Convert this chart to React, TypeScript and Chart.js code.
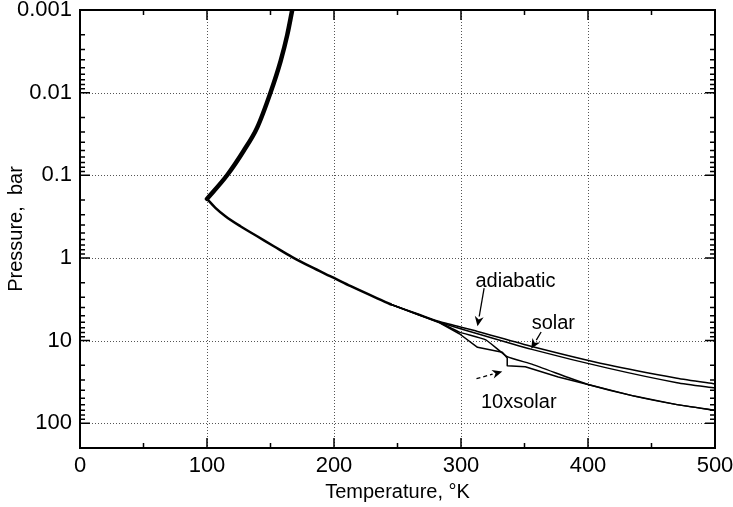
import React, { useEffect, useRef } from 'react';
import { Chart, registerables } from 'chart.js';

Chart.register(...registerables);

const FONT_FAMILY = '"Liberation Sans", Arial, Helvetica, sans-serif';

// ---- Data (Temperature in K, Pressure in bar) ----
// Upper branch (thick), from the tropopause minimum upward
const upperT = [100, 115.8, 128.9, 139.5, 150, 157.9, 163.2, 167.1];
const upperP = [0.193, 0.1, 0.0505, 0.0265, 0.01, 0.00418, 0.002, 0.001];

// Common lower branch, from the minimum down to where the models split
const commonT = [100, 106.6, 114.5, 126.3, 139.5, 152.6, 167.1, 181.6, 200, 213.2, 244.5];
const commonP = [0.193, 0.248, 0.313, 0.414, 0.547, 0.723, 0.98, 1.28, 1.75, 2.2, 3.64];

// Adiabatic model
const adiabaticT = [244.5, 267.5, 283.1, 313, 355.8, 415.6, 470.1, 500];
const adiabaticP = [3.64, 4.85, 5.9, 7.76, 11.8, 19.7, 28.6, 33.5];

// Solar composition model
const solarT = [244.5, 267.5, 283.1, 313, 355.8, 415.6, 470.1, 500];
const solarP = [3.64, 4.92, 6.0, 8.28, 12.8, 21.6, 32.4, 37.5];

// 10 x solar composition, first curve
const tenSolarAT = [244.5, 267.5, 283.1, 298.7, 319.5, 336.4, 355.8, 384.4, 400, 436.4, 470.1, 500];
const tenSolarAP = [3.64, 4.95, 6.05, 7.91, 9.82, 15.7, 19.3, 28.1, 34.0, 47.1, 59.7, 70];

// 10 x solar composition, second curve (with the step)
const tenSolarBT = [244.5, 267.5, 283.1, 298.7, 313, 332.5, 336.4, 336.4, 350.6, 376.6, 400, 436.4, 470.1, 500];
const tenSolarBP = [3.64, 4.97, 6.1, 8.28, 12.1, 13.9, 16.3, 20.2, 20.8, 27.6, 34.0, 47.1, 59.7, 70];

// ---- Axes ----
const xTickValues = [0, 100, 200, 300, 400, 500];
const xMinorTicks = [50, 150, 250, 350, 450];
const yTickValues = [0.001, 0.01, 0.1, 1, 10, 100];
const yTickLabels = ['0.001', '0.01', '0.1', '1', '10', '100'];
const xGridValues = [100, 200, 300, 400];
const yGridValues = [0.01, 0.1, 1, 10, 100];

// ---- Annotations (data coordinates) ----
const labelTexts = ['adiabatic', 'solar', '10xsolar'];
const labelT = [342.9, 372.7, 345.5];
const labelP = [1.93, 6.25, 56.9];
const arrowFromT = [318.2, 363.1, 312.2];
const arrowFromP = [2.33, 7.9, 28.9];
const arrowToT = [313, 355.3, 332.5];
const arrowToP = [6.74, 12.6, 23.8];
const arrowDashed = [false, false, true];

const toPts = (ts: number[], ps: number[]) => ts.map((t, i) => ({ x: t, y: ps[i] }));

const yMinorTicks: number[] = [];
for (const d of yTickValues) {
  for (let m = 2; m <= 9; m++) {
    const v = m * d;
    if (v <= 200) yMinorTicks.push(v);
  }
}

const framePlugin = {
  id: 'frameAndNotes',
  beforeDatasetsDraw(chart: any) {
    const { ctx, chartArea: a, scales } = chart;
    const x = scales.x;
    const y = scales.y;
    ctx.save();
    ctx.strokeStyle = '#555';
    ctx.lineWidth = 1;
    ctx.setLineDash([1, 2]);
    for (const t of xGridValues) {
      const px = Math.round(x.getPixelForValue(t)) + 0.5;
      ctx.beginPath();
      ctx.moveTo(px, a.top);
      ctx.lineTo(px, a.bottom);
      ctx.stroke();
    }
    for (const p of yGridValues) {
      const py = Math.round(y.getPixelForValue(p)) + 0.5;
      ctx.beginPath();
      ctx.moveTo(a.left, py);
      ctx.lineTo(a.right, py);
      ctx.stroke();
    }
    ctx.restore();
  },
  afterDatasetsDraw(chart: any) {
    const { ctx, chartArea: a, scales } = chart;
    const x = scales.x;
    const y = scales.y;
    ctx.save();
    ctx.setLineDash([]);
    ctx.strokeStyle = '#000';
    ctx.fillStyle = '#000';

    // Inner tick marks
    ctx.lineWidth = 1.5;
    const tickX = (vals: number[], len: number) => {
      for (const t of vals) {
        const px = x.getPixelForValue(t);
        ctx.beginPath();
        ctx.moveTo(px, a.bottom);
        ctx.lineTo(px, a.bottom - len);
        ctx.moveTo(px, a.top);
        ctx.lineTo(px, a.top + len);
        ctx.stroke();
      }
    };
    const tickY = (vals: number[], len: number) => {
      for (const p of vals) {
        const py = y.getPixelForValue(p);
        ctx.beginPath();
        ctx.moveTo(a.left, py);
        ctx.lineTo(a.left + len, py);
        ctx.moveTo(a.right, py);
        ctx.lineTo(a.right - len, py);
        ctx.stroke();
      }
    };
    tickX(xTickValues, 10);
    tickX(xMinorTicks, 5);
    tickY(yTickValues, 10);
    tickY(yMinorTicks, 5);

    // Frame
    ctx.lineWidth = 2;
    ctx.strokeRect(a.left, a.top, a.right - a.left, a.bottom - a.top);

    // Labels
    ctx.font = '20px ' + FONT_FAMILY;
    ctx.textAlign = 'center';
    ctx.textBaseline = 'middle';
    labelTexts.forEach((txt, i) => {
      ctx.fillText(txt, x.getPixelForValue(labelT[i]), y.getPixelForValue(labelP[i]));
    });

    // Arrows
    labelTexts.forEach((_, i) => {
      const x1 = x.getPixelForValue(arrowFromT[i]);
      const y1 = y.getPixelForValue(arrowFromP[i]);
      const x2 = x.getPixelForValue(arrowToT[i]);
      const y2 = y.getPixelForValue(arrowToP[i]);
      const ang = Math.atan2(y2 - y1, x2 - x1);
      const headLen = 10;
      const headW = 4.5;
      const bx = x2 - headLen * Math.cos(ang);
      const by = y2 - headLen * Math.sin(ang);
      ctx.lineWidth = 1.3;
      ctx.setLineDash(arrowDashed[i] ? [4, 3] : []);
      ctx.beginPath();
      ctx.moveTo(x1, y1);
      ctx.lineTo(bx, by);
      ctx.stroke();
      ctx.setLineDash([]);
      ctx.beginPath();
      ctx.moveTo(x2, y2);
      ctx.lineTo(bx + headW * Math.sin(ang), by - headW * Math.cos(ang));
      ctx.lineTo(bx + 3 * Math.cos(ang), by + 3 * Math.sin(ang));
      ctx.lineTo(bx - headW * Math.sin(ang), by + headW * Math.cos(ang));
      ctx.closePath();
      ctx.fill();
    });
    ctx.restore();
  },
};

const lineDs = (label: string, ts: number[], ps: number[], width: number, tension: number, monotone = false) => ({
  label,
  data: toPts(ts, ps),
  showLine: true,
  borderColor: '#000',
  backgroundColor: '#000',
  borderWidth: width,
  pointRadius: 0,
  pointHoverRadius: 0,
  tension,
  cubicInterpolationMode: monotone ? ('monotone' as const) : ('default' as const),
  borderJoinStyle: 'round' as const,
  borderCapStyle: 'round' as const,
  fill: false,
});

export default function App() {
  const ref = useRef<HTMLCanvasElement>(null);

  useEffect(() => {
    if (!ref.current) return;
    const tickFont = { family: FONT_FAMILY, size: 22 };
    const titleFont = { family: FONT_FAMILY, size: 20 };
    const chart = new Chart(ref.current, {
      type: 'scatter',
      data: {
        datasets: [
          lineDs('upper', upperT, upperP, 4.5, 0.4, true),
          lineDs('common', commonT, commonP, 2.5, 0.4, true),
          lineDs('adiabatic', adiabaticT, adiabaticP, 1.5, 0.2),
          lineDs('solar', solarT, solarP, 1.5, 0.2),
          lineDs('10xsolar A', tenSolarAT, tenSolarAP, 1.5, 0.15),
          lineDs('10xsolar B', tenSolarBT, tenSolarBP, 1.5, 0),
        ],
      },
      options: {
        animation: false,
        responsive: false,
        devicePixelRatio: 1,
        layout: { padding: { top: 10, right: 18, bottom: 0, left: 0 } },
        plugins: {
          legend: { display: false },
          tooltip: { enabled: false },
        },
        scales: {
          x: {
            type: 'linear',
            min: 0,
            max: 500,
            afterBuildTicks: (s: any) => {
              s.ticks = xTickValues.map((v) => ({ value: v }));
            },
            ticks: {
              font: tickFont,
              color: '#000',
              padding: 5,
              maxRotation: 0,
              autoSkip: false,
              callback: (v: any) => String(v),
            },
            grid: { display: false, drawTicks: false, tickLength: 0 },
            border: { display: false },
            title: {
              display: true,
              text: 'Temperature, °K',
              font: titleFont,
              color: '#000',
              padding: { top: 0, bottom: 3 },
            },
            afterFit: (s: any) => {
              s.height = 59;
              s.paddingLeft = 0;
              s.paddingRight = 0;
              s.paddingTop = 0;
              s.paddingBottom = 0;
            },
          },
          y: {
            type: 'logarithmic',
            reverse: true,
            min: 0.001,
            max: 200,
            afterBuildTicks: (s: any) => {
              s.ticks = yTickValues.map((v) => ({ value: v }));
            },
            ticks: {
              font: tickFont,
              color: '#000',
              padding: 8,
              autoSkip: false,
              callback: (_v: any, i: number) => yTickLabels[i],
            },
            grid: { display: false, drawTicks: false, tickLength: 0 },
            border: { display: false },
            title: {
              display: true,
              text: 'Pressure,  bar',
              font: titleFont,
              color: '#000',
              padding: { top: 4, bottom: 0 },
            },
            afterFit: (s: any) => {
              s.width = 80;
              s.paddingLeft = 0;
              s.paddingRight = 0;
              s.paddingTop = 0;
              s.paddingBottom = 0;
            },
          },
        },
      } as any,
      plugins: [framePlugin],
    });
    return () => chart.destroy();
  }, []);

  return (
    <div style={{ position: 'absolute', left: 0, top: 0, width: 733, height: 507, background: '#fff' }}>
      <canvas ref={ref} width={733} height={507} style={{ display: 'block', width: 733, height: 507 }} />
    </div>
  );
}
